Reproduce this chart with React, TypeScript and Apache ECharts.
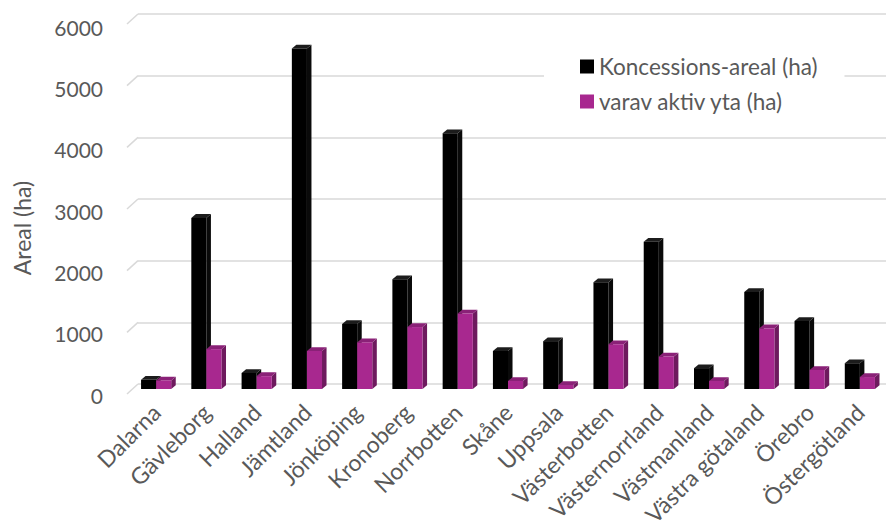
import React, { useEffect, useRef } from "react";
import * as echarts from "echarts";

const categories = [
  "Dalarna", "Gävleborg", "Halland", "Jämtland", "Jönköping", "Kronoberg", "Norrbotten",
  "Skåne", "Uppsala", "Västerbotten", "Västernorrland", "Västmanland", "Västra götaland",
  "Örebro", "Östergötland",
];
const koncession = [150, 2790, 260, 5550, 1060, 1790, 4170, 620, 780, 1740, 2400, 340, 1580, 1110, 420];
const aktiv = [140, 650, 210, 620, 760, 1010, 1230, 130, 65, 730, 530, 130, 990, 310, 195];
const yTicks = [0, 1000, 2000, 3000, 4000, 5000, 6000];
const seriesNames = ["Koncessions-areal (ha)", "varav aktiv yta (ha)"];

const FONT = "Lato, 'Open Sans', sans-serif";
const TEXT = "#595959";
const GRID = "#D9D9D9";

const faces = [
  { front: "#000000", side: "#0a0a0a", top: "#1c1c1c" },
  { front: "#A8288F", side: "#6E1A5E", top: "#8A2177" },
];

function makeBar(seriesIdx: number) {
  return (params: any, api: any) => {
    const i = api.value(0);
    const v = api.value(1);
    const top = api.coord([i, v]);
    const base = api.coord([i, 0]);
    const band = api.size([1, 0])[0];
    const bw = band * 0.3;
    const dx = bw * 0.3;
    const dy = -bw * 0.25;
    const x0 = seriesIdx === 0 ? top[0] - bw : top[0];
    const f = faces[seriesIdx];
    return {
      type: "group",
      children: [
        {
          type: "polygon",
          shape: { points: [[x0 + bw, top[1]], [x0 + bw + dx, top[1] + dy], [x0 + bw + dx, base[1] + dy], [x0 + bw, base[1]]] },
          style: { fill: f.side },
        },
        {
          type: "polygon",
          shape: { points: [[x0, top[1]], [x0 + dx, top[1] + dy], [x0 + bw + dx, top[1] + dy], [x0 + bw, top[1]]] },
          style: { fill: f.top },
        },
        {
          type: "rect",
          shape: { x: x0, y: top[1], width: bw, height: base[1] - top[1] },
          style: { fill: f.front },
        },
      ],
    };
  };
}

export default function App() {
  const ref = useRef<HTMLDivElement>(null);
  useEffect(() => {
    if (!ref.current) return;
    const chart = echarts.init(ref.current, undefined, { renderer: "svg" });
    chart.setOption({
      animation: false,
      backgroundColor: "#ffffff",
      textStyle: { fontFamily: FONT },
      grid: [
        { left: 138, right: 0, top: 14, bottom: 148 },
        { left: 131, right: 1, top: 21, bottom: 143 },
      ],
      xAxis: [
        { type: "value", gridIndex: 0, min: 0, max: 1, show: false },
        {
          type: "category",
          gridIndex: 1,
          data: categories,
          axisLine: { show: false },
          axisTick: { show: false },
          axisLabel: { rotate: 45, margin: 19, color: TEXT, fontSize: 23, fontFamily: FONT, interval: 0 },
        },
      ],
      yAxis: [
        {
          type: "value",
          gridIndex: 0,
          min: 0,
          max: 6000,
          interval: 1000,
          axisLabel: { show: false },
          axisLine: { show: false },
          axisTick: { show: false },
          splitLine: { lineStyle: { color: GRID, width: 1.5 } },
        },
        {
          type: "value",
          gridIndex: 1,
          min: 0,
          max: 6000,
          interval: 1000,
          axisLine: { show: false },
          axisTick: { show: false },
          splitLine: { show: false },
          axisLabel: {
            margin: 28,
            color: TEXT,
            fontSize: 21,
            fontFamily: FONT,
            verticalAlign: "top",
            lineHeight: 12,
            formatter: (v: number) => String(v),
          },
        },
      ],
      legend: {
        orient: "vertical",
        left: 544,
        top: 45,
        padding: [10, 27, 14, 36],
        backgroundColor: "#ffffff",
        itemWidth: 14,
        itemHeight: 14,
        itemGap: 12,
        icon: "rect",
        textStyle: { color: TEXT, fontSize: 22.5, fontFamily: FONT },
        data: seriesNames,
      },
      graphic: [
        {
          type: "text",
          x: 22,
          y: 228,
          rotation: Math.PI / 2,
          style: { text: "Areal (ha)", textAlign: "center", textVerticalAlign: "middle", fill: TEXT, font: `23px ${FONT}` },
        },
      ],
      series: [
        {
          type: "custom",
          name: "gridEnds",
          xAxisIndex: 0,
          yAxisIndex: 0,
          silent: true,
          data: yTicks.map((t) => [0, t]),
          renderItem: (params: any, api: any) => {
            const p = api.coord([0, api.value(1)]);
            return {
              type: "line",
              shape: { x1: p[0] - 11, y1: p[1] + 10, x2: p[0], y2: p[1] },
              style: { stroke: GRID, lineWidth: 1.5 },
            };
          },
        },
        {
          type: "custom",
          name: seriesNames[0],
          xAxisIndex: 1,
          yAxisIndex: 1,
          itemStyle: { color: "#000000" },
          data: koncession.map((v, i) => [i, v]),
          encode: { x: 0, y: 1 },
          renderItem: makeBar(0),
        },
        {
          type: "custom",
          name: seriesNames[1],
          xAxisIndex: 1,
          yAxisIndex: 1,
          itemStyle: { color: "#A8288F" },
          data: aktiv.map((v, i) => [i, v]),
          encode: { x: 0, y: 1 },
          renderItem: makeBar(1),
        },
      ],
    });
    return () => chart.dispose();
  }, []);
  return <div ref={ref} style={{ width: 886, height: 532, position: "absolute", left: 0, top: 0 }} />;
}
